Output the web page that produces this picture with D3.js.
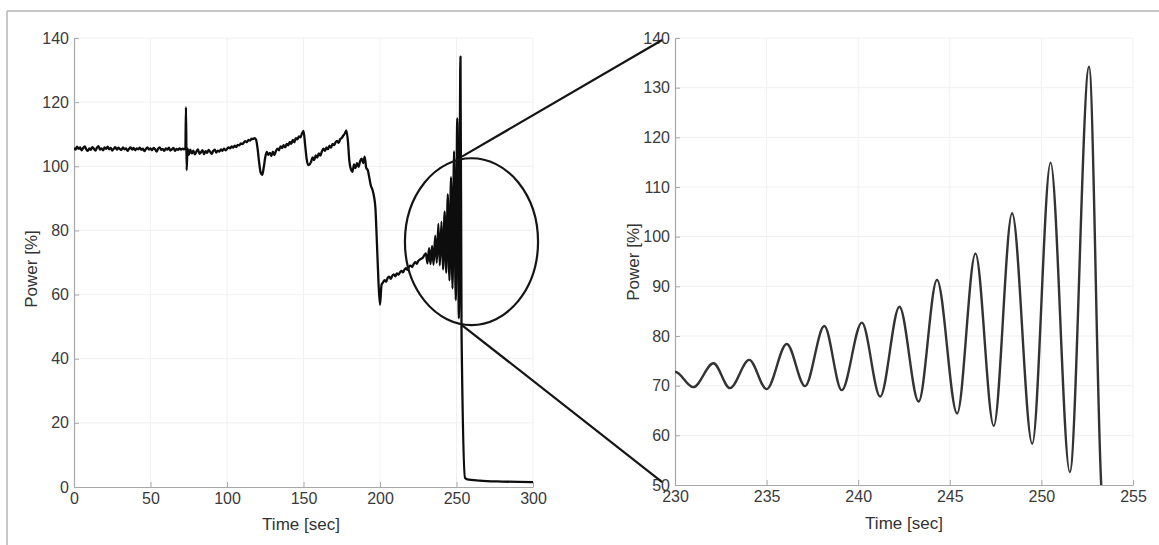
<!DOCTYPE html>
<html><head><meta charset="utf-8">
<script src="https://cdn.jsdelivr.net/npm/d3@7"></script>
<style>body{margin:0;background:#fff}svg{display:block}</style>
</head><body><svg id="c" width="1159" height="545"></svg>
<script>
// ---- tick labels ----
const leftXTicks = [0, 50, 100, 150, 200, 250, 300];
const leftYTicks = [0, 20, 40, 60, 80, 100, 120, 140];
const rightXTicks = [230, 235, 240, 245, 250, 255];
const rightYTicks = [50, 60, 70, 80, 90, 100, 110, 120, 130, 140];
const xTitle = "Time [sec]";
const yTitle = "Power [%]";

// ---- power trace [time s, power %] ----
const powerTrace = [
[0,105.8],[1,105.2],[2,106.1],[3,105.4],[4,105.9],[5,105.0],[6,105.7],[7,106.2],[8,105.3],[9,104.8],
[10,105.6],[11,105.1],[12,106.0],[13,105.5],[14,104.9],[15,105.8],[16,106.3],[17,105.2],[18,105.6],[19,105.0],
[20,105.9],[21,105.4],[22,106.1],[23,105.3],[24,105.7],[25,104.9],[26,105.5],[27,106.0],[28,105.2],[29,105.8],
[30,105.4],[31,105.1],[32,105.9],[33,105.3],[34,105.6],[35,104.8],[36,105.5],[37,105.9],[38,105.2],[39,105.7],
[40,105.0],[41,105.6],[42,105.3],[43,105.8],[44,105.1],[45,105.5],[46,104.7],[47,105.4],[48,105.9],[49,105.2],
[50,105.6],[51,105.0],[52,105.7],[53,105.3],[54,104.6],[55,105.5],[56,105.9],[57,105.1],[58,105.4],[59,104.8],
[60,105.6],[61,105.2],[62,105.8],[63,104.9],[64,105.3],[65,105.7],[66,104.8],[67,105.4],[68,105.1],[69,105.6],
[70,105.2],[71,105.5],[72,105.3],[72.8,105.6],[73.2,118.4],[73.6,98.8],[74.2,105.5],
[75,103.6],[76,105.2],[77,104.0],[78,104.9],[79,103.7],[80,104.6],[81,105.3],[82,103.9],[83,104.4],[84,105.0],
[85,103.8],[86,104.7],[87,104.2],[88,105.1],[89,104.5],[90,103.9],[91,104.8],[92,105.2],[93,104.3],[94,104.9],
[95,104.6],[96,105.3],[97,104.8],[98,105.5],[99,105.0],[100,105.4],[101,105.9],[102,105.6],[103,106.2],[104,105.8],
[105,106.4],[106,106.0],[107,106.7],[108,106.5],[109,107.1],[110,106.9],[111,107.4],[112,107.8],[113,107.5],[114,108.2],
[115,108.0],[116,108.6],[117,108.5],[118,108.8],[119,108.3],[120,105.5],[121,101.2],[122,98.0],[123,97.3],[124,99.6],
[125,102.8],[126,104.5],[127,103.6],[128,104.2],[129,103.2],[130,104.6],[131,103.5],[132,104.8],[133,105.5],[134,105.0],
[135,106.2],[136,105.7],[137,106.6],[138,105.9],[139,107.0],[140,106.5],[141,107.6],[142,107.0],[143,108.2],[144,107.5],
[145,108.8],[146,108.4],[147,109.3],[148,109.0],[149,110.2],[150,111.0],[151,107.0],[152,102.5],[153,100.4],[154,100.6],
[155,101.5],[156,102.8],[157,101.9],[158,103.4],[159,102.7],[160,104.0],[161,103.3],[162,104.6],[163,105.5],[164,104.8],
[165,105.9],[166,105.3],[167,106.4],[168,105.8],[169,107.0],[170,106.6],[171,107.5],[172,107.9],[173,107.3],[174,108.5],
[175,108.8],[176,109.6],[177,110.2],[178,111.2],[179,108.0],[180,101.5],[181,99.0],[182,98.3],[183,100.6],[184,99.4],
[185,101.0],[186,99.8],[187,101.6],[188,102.4],[189,101.0],[190,103.0],[191,99.5],[192,98.8],[193,96.5],[194,94.0],
[195,92.8],[196,90.8],[197,87.0],[198,76.0],[199,64.0],[200,56.8],[201,63.0],[202,63.8],[203,64.5],[204,64.0],
[205,65.2],[206,65.6],[207,64.9],[208,65.8],[209,66.3],[210,65.7],[211,66.6],[212,66.2],[213,66.9],[214,67.4],
[215,66.9],[216,67.8],[217,68.2],[218,67.7],[219,68.7],[220,69.0],[221,68.6],[222,69.5],[223,70.1],[224,69.6],
[225,70.5],[226,70.9],[227,71.2],[228,71.5],[229,72.3],
[230.0,72.8],[231.0,69.7],[232.1,74.5],[233.0,69.5],[234.05,75.2],[235.0,69.3],[236.1,78.4],[237.1,69.9],
[238.15,82.0],[239.1,69.1],[240.2,82.7],[241.2,67.8],[242.25,85.9],[243.3,66.8],[244.3,91.3],[245.4,64.4],
[246.4,96.6],[247.4,61.9],[248.4,104.7],[249.5,58.3],[250.5,114.9],[251.55,52.6],[252.6,134.2],[253.3,48.0],
[255.6,2.8],[257,2.4],[265,2.0],[280,1.7],[300,1.5]
];

// ---- zoom annotation (data units of the left / right panels) ----
const zoomEllipse = [259.8, 76.5, 43.5, 26];        // centre time, centre power, half width (s), half height (%)
const connectorFrom = [[253.5, 103], [253.5, 50.5]]; // on left panel
const connectorTo = [[229.3, 139.6], [229.3, 50.6]]; // on right panel

// ---- drawing ----
const svg = d3.select("#c");
const FONT = "'Liberation Sans', Arial, sans-serif";

// outer frame
svg.append("line").attr("x1", 7).attr("y1", 11).attr("x2", 1159).attr("y2", 11)
  .attr("stroke", "#b4b4b4").attr("stroke-width", 1.5);
svg.append("line").attr("x1", 7).attr("y1", 11).attr("x2", 7).attr("y2", 545)
  .attr("stroke", "#b4b4b4").attr("stroke-width", 1.5);

const xL = d3.scaleLinear().domain([0, 300]).range([74, 533]);
const yL = d3.scaleLinear().domain([0, 140]).range([487, 38]);
const xR = d3.scaleLinear().domain([230, 255]).range([675, 1133]);
const yR = d3.scaleLinear().domain([50, 140]).range([485, 38]);

function panel(x, y, xt, yt, id, lineColor, lineWidth, data) {
  const g = svg.append("g");
  const [x0, x1] = x.range(), [y0, y1] = y.range();
  // grid
  g.append("g").selectAll("line").data(yt.slice(1)).join("line")
    .attr("x1", x0).attr("x2", x1).attr("y1", d => y(d)).attr("y2", d => y(d))
    .attr("stroke", "#f0f0f0").attr("stroke-width", 1);
  g.append("g").selectAll("line").data(xt.slice(1)).join("line")
    .attr("y1", y0).attr("y2", y1).attr("x1", d => x(d)).attr("x2", d => x(d))
    .attr("stroke", "#f0f0f0").attr("stroke-width", 1);
  // axes
  const ax = g.append("g").attr("transform", `translate(0,${y0})`)
    .call(d3.axisBottom(x).tickValues(xt).tickFormat(d3.format("d")).tickSizeInner(-5).tickSizeOuter(0).tickPadding(6));
  const ay = g.append("g").attr("transform", `translate(${x0},0)`)
    .call(d3.axisLeft(y).tickValues(yt).tickFormat(d3.format("d")).tickSizeInner(-5).tickSizeOuter(0).tickPadding(5));
  [ax, ay].forEach(a => {
    a.select(".domain").attr("stroke", "#a8a8a8").attr("stroke-width", 1.2);
    a.selectAll(".tick line").attr("stroke", "#a8a8a8");
    a.selectAll("text").attr("font-family", FONT).attr("font-size", 16).attr("fill", "#3a3a3a");
  });
  // data
  svg.append("clipPath").attr("id", id).append("rect")
    .attr("x", x0).attr("y", y1 - 2).attr("width", x1 - x0).attr("height", y0 - y1 + 2);
  const line = d3.line().x(d => x(d[0])).y(d => y(d[1])).curve(d3.curveMonotoneX);
  g.append("path").datum(data).attr("d", line).attr("clip-path", `url(#${id})`)
    .attr("fill", "none").attr("stroke", lineColor).attr("stroke-width", lineWidth)
    .attr("stroke-linejoin", "round");
  return g;
}

panel(xL, yL, leftXTicks, leftYTicks, "clipL", "#0d0d0d", 2.3, powerTrace);
panel(xR, yR, rightXTicks, rightYTicks, "clipR", "#333", 2.4,
  powerTrace.filter(d => d[0] >= 228 && d[0] <= 258));

// titles
function title(txt, x, y, rot) {
  svg.append("text").text(txt).attr("transform", `translate(${x},${y}) rotate(${rot})`)
    .attr("text-anchor", "middle").attr("font-family", FONT).attr("font-size", 17).attr("fill", "#333");
}
title(yTitle, 37, 269, -90);
title(yTitle, 639, 262, -90);
title(xTitle, 301, 530, 0);
title(xTitle, 904, 529, 0);

// zoom ellipse and connectors
svg.append("ellipse")
  .attr("cx", xL(zoomEllipse[0])).attr("cy", yL(zoomEllipse[1]))
  .attr("rx", xL(zoomEllipse[0] + zoomEllipse[2]) - xL(zoomEllipse[0]))
  .attr("ry", yL(zoomEllipse[1]) - yL(zoomEllipse[1] + zoomEllipse[3]))
  .attr("fill", "none").attr("stroke", "#151515").attr("stroke-width", 2.2);
svg.append("g").selectAll("line").data(d3.zip(connectorFrom, connectorTo)).join("line")
  .attr("x1", d => xL(d[0][0])).attr("y1", d => yL(d[0][1]))
  .attr("x2", d => xR(d[1][0])).attr("y2", d => yR(d[1][1]))
  .attr("stroke", "#151515").attr("stroke-width", 2.2);
</script></body></html>
